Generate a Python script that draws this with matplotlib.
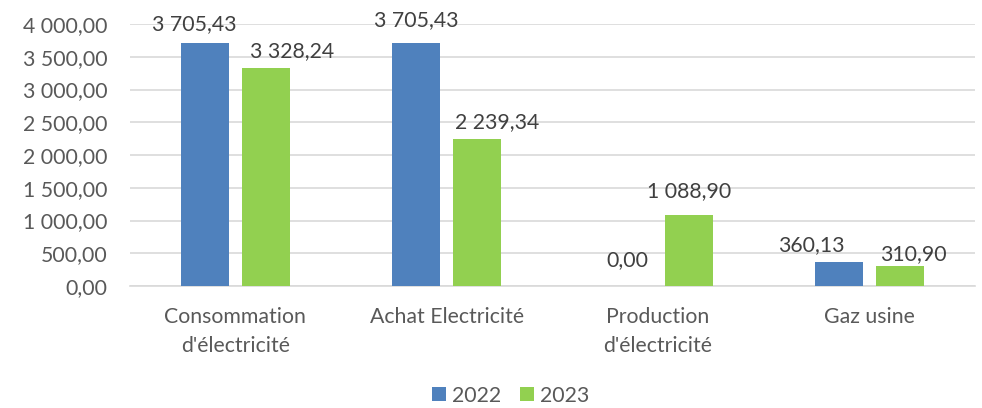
import numpy as np
import matplotlib.pyplot as plt
from matplotlib.ticker import FuncFormatter

categories = ["Consommation\nd'électricité", "Achat Electricité",
              "Production\nd'électricité", "Gaz usine"]
values_2022 = [3705.43, 3705.43, 0.00, 360.13]
values_2023 = [3328.24, 2239.34, 1088.90, 310.90]
series_names = ["2022", "2023"]
yticks = [0, 500, 1000, 1500, 2000, 2500, 3000, 3500, 4000]

# label shifts in pixels (labels were moved by hand in the original)
shift_2022 = [(-10, 13), (0, 17), (0, 20), (-27, 11)]
shift_2023 = [(26, 11), (20, 11), (0, 18), (13, 6)]


def fr_num(v, pos=None):
    s = f"{v:,.2f}"
    return s.replace(",", " ").replace(".", ",")


plt.rcParams['font.family'] = ['Lato', 'DejaVu Sans']
FS = 15.3

fig = plt.figure(figsize=(9.82, 4.08), dpi=100)
ax = fig.add_axes([0.132, 0.299, 0.861, 0.642])

x = np.arange(len(categories))
w = 0.227
off = 0.145
colors = ["#4F81BD", "#92D050"]

b1 = ax.bar(x - off, values_2022, w, color=colors[0], label=series_names[0], zorder=3)
b2 = ax.bar(x + off, values_2023, w, color=colors[1], label=series_names[1], zorder=3)

px = 72 / fig.dpi
for bars, shifts in ((b1, shift_2022), (b2, shift_2023)):
    for rect, (dx, dy) in zip(bars, shifts):
        h = rect.get_height()
        ax.annotate(fr_num(h), (rect.get_x() + rect.get_width() / 2, h),
                    xytext=(dx * px, dy * px), textcoords="offset points",
                    ha="center", va="baseline", fontsize=FS, color="#404040",
                    annotation_clip=False)

ax.set_xlim(-0.5, len(categories) - 0.5)
ax.set_ylim(0, 4000)
ax.set_yticks(yticks)
ax.yaxis.set_major_formatter(FuncFormatter(fr_num))
ax.set_xticks(x)
ax.set_xticklabels(categories, fontsize=FS, color="#595959", linespacing=1.6)
ax.tick_params(axis="y", labelsize=FS, labelcolor="#595959", length=0, pad=16)
ax.tick_params(axis="x", length=0, pad=15)

ax.grid(axis="y", color="#D9D9D9", linewidth=1.2, zorder=0)
for s in ["top", "right", "left"]:
    ax.spines[s].set_visible(False)
ax.spines["bottom"].set_color("#D9D9D9")
ax.spines["bottom"].set_linewidth(1.2)

fig.legend(loc="center", bbox_to_anchor=(0.52, 0.03), ncol=2, frameon=False,
           fontsize=FS, labelcolor="#595959", handlelength=0.66, handleheight=0.66,
           handletextpad=0.3, columnspacing=0.85)

fig.savefig("out.png", dpi=100)
